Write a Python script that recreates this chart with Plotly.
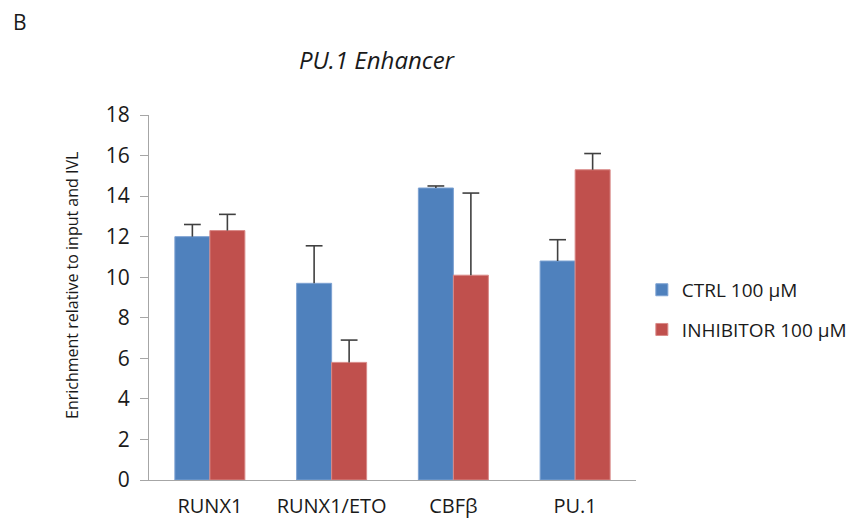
import plotly.graph_objects as go

# ChIP enrichment at the PU.1 enhancer
categories = ["RUNX1", "RUNX1/ETO", "CBFβ", "PU.1"]
ctrl_values = [12.0, 9.7, 14.4, 10.8]
ctrl_errors = [0.6, 1.85, 0.1, 1.05]
inhib_values = [12.3, 5.8, 10.1, 15.3]
inhib_errors = [0.8, 1.1, 4.05, 0.8]
y_ticks = [0, 2, 4, 6, 8, 10, 12, 14, 16, 18]

FONT = "Open Sans, Calibri, Carlito, sans-serif"
TXT = "#1a1a1a"
ERR = "#404040"

series = [
    ("CTRL 100 μM", ctrl_values, ctrl_errors, "#4F81BD", "#7DA2D2", "a"),
    ("INHIBITOR 100 μM", inhib_values, inhib_errors, "#C0504D", "#D98A88", "b"),
]

fig = go.Figure()
for name, vals, errs, color, edge, grp in series:
    fig.add_trace(go.Bar(
        x=categories, y=vals, name=name, legendgroup=grp, offsetgroup=grp,
        marker=dict(color=color, line=dict(color=edge, width=1)),
        hoverinfo="skip",
    ))

# one-sided (upper) error whiskers: a stem down to the bar top and a cap on top
for name, vals, errs, color, edge, grp in series:
    tops = [v + e for v, e in zip(vals, errs)]
    fig.add_trace(go.Scatter(
        x=categories, y=tops, mode="markers", offsetgroup=grp, showlegend=False,
        marker=dict(symbol="line-ew", size=12, color=ERR, line=dict(color=ERR, width=1.6)),
        error_y=dict(type="data", array=[0] * len(errs), arrayminus=errs, symmetric=False,
                     color=ERR, thickness=1.6, width=0),
        hoverinfo="skip",
    ))

fig.update_layout(
    width=860, height=521,
    margin=dict(l=149, r=224, t=115, b=41, autoexpand=False),
    paper_bgcolor="white", plot_bgcolor="white",
    barmode="group", bargap=0.425, bargroupgap=0,
    scattermode="group", scattergap=0.425,
    font=dict(family=FONT, size=17, color=TXT),
    showlegend=True,
    legend=dict(x=1.012, xanchor="left", y=0.466, yanchor="middle",
                traceorder="grouped", tracegroupgap=12,
                font=dict(family=FONT, size=19, color=TXT),
                itemwidth=30, bgcolor="rgba(0,0,0,0)"),
    xaxis=dict(showline=True, linecolor="#A6A6A6", linewidth=1.3, ticks="",
               showgrid=False, zeroline=False, ticklabelstandoff=8, automargin=False,
               tickfont=dict(family=FONT, size=20, color=TXT)),
    yaxis=dict(range=[0, 18], tickvals=y_ticks, showline=True, linecolor="#A6A6A6",
               linewidth=1.3, ticks="outside", ticklen=8, tickcolor="#A6A6A6",
               showgrid=False, zeroline=False, ticklabelstandoff=6, automargin=False,
               tickfont=dict(family=FONT, size=21, color=TXT)),
    annotations=[
        dict(text="<i>PU.1 Enhancer</i>", xref="paper", yref="paper",
             x=0.47, y=1.151, xanchor="center", yanchor="middle", showarrow=False,
             font=dict(family=FONT, size=24, color=TXT)),
        dict(text="B", xref="paper", yref="paper", x=-0.265, y=1.255,
             xanchor="center", yanchor="middle", showarrow=False,
             font=dict(family=FONT, size=21, color=TXT)),
        dict(text="Enrichment relative to input and IVL", xref="paper", yref="paper",
             x=-0.157, y=0.533, xanchor="center", yanchor="middle", textangle=-90,
             showarrow=False, font=dict(family=FONT, size=16, color=TXT)),
    ],
)

fig.write_html("out.html")
